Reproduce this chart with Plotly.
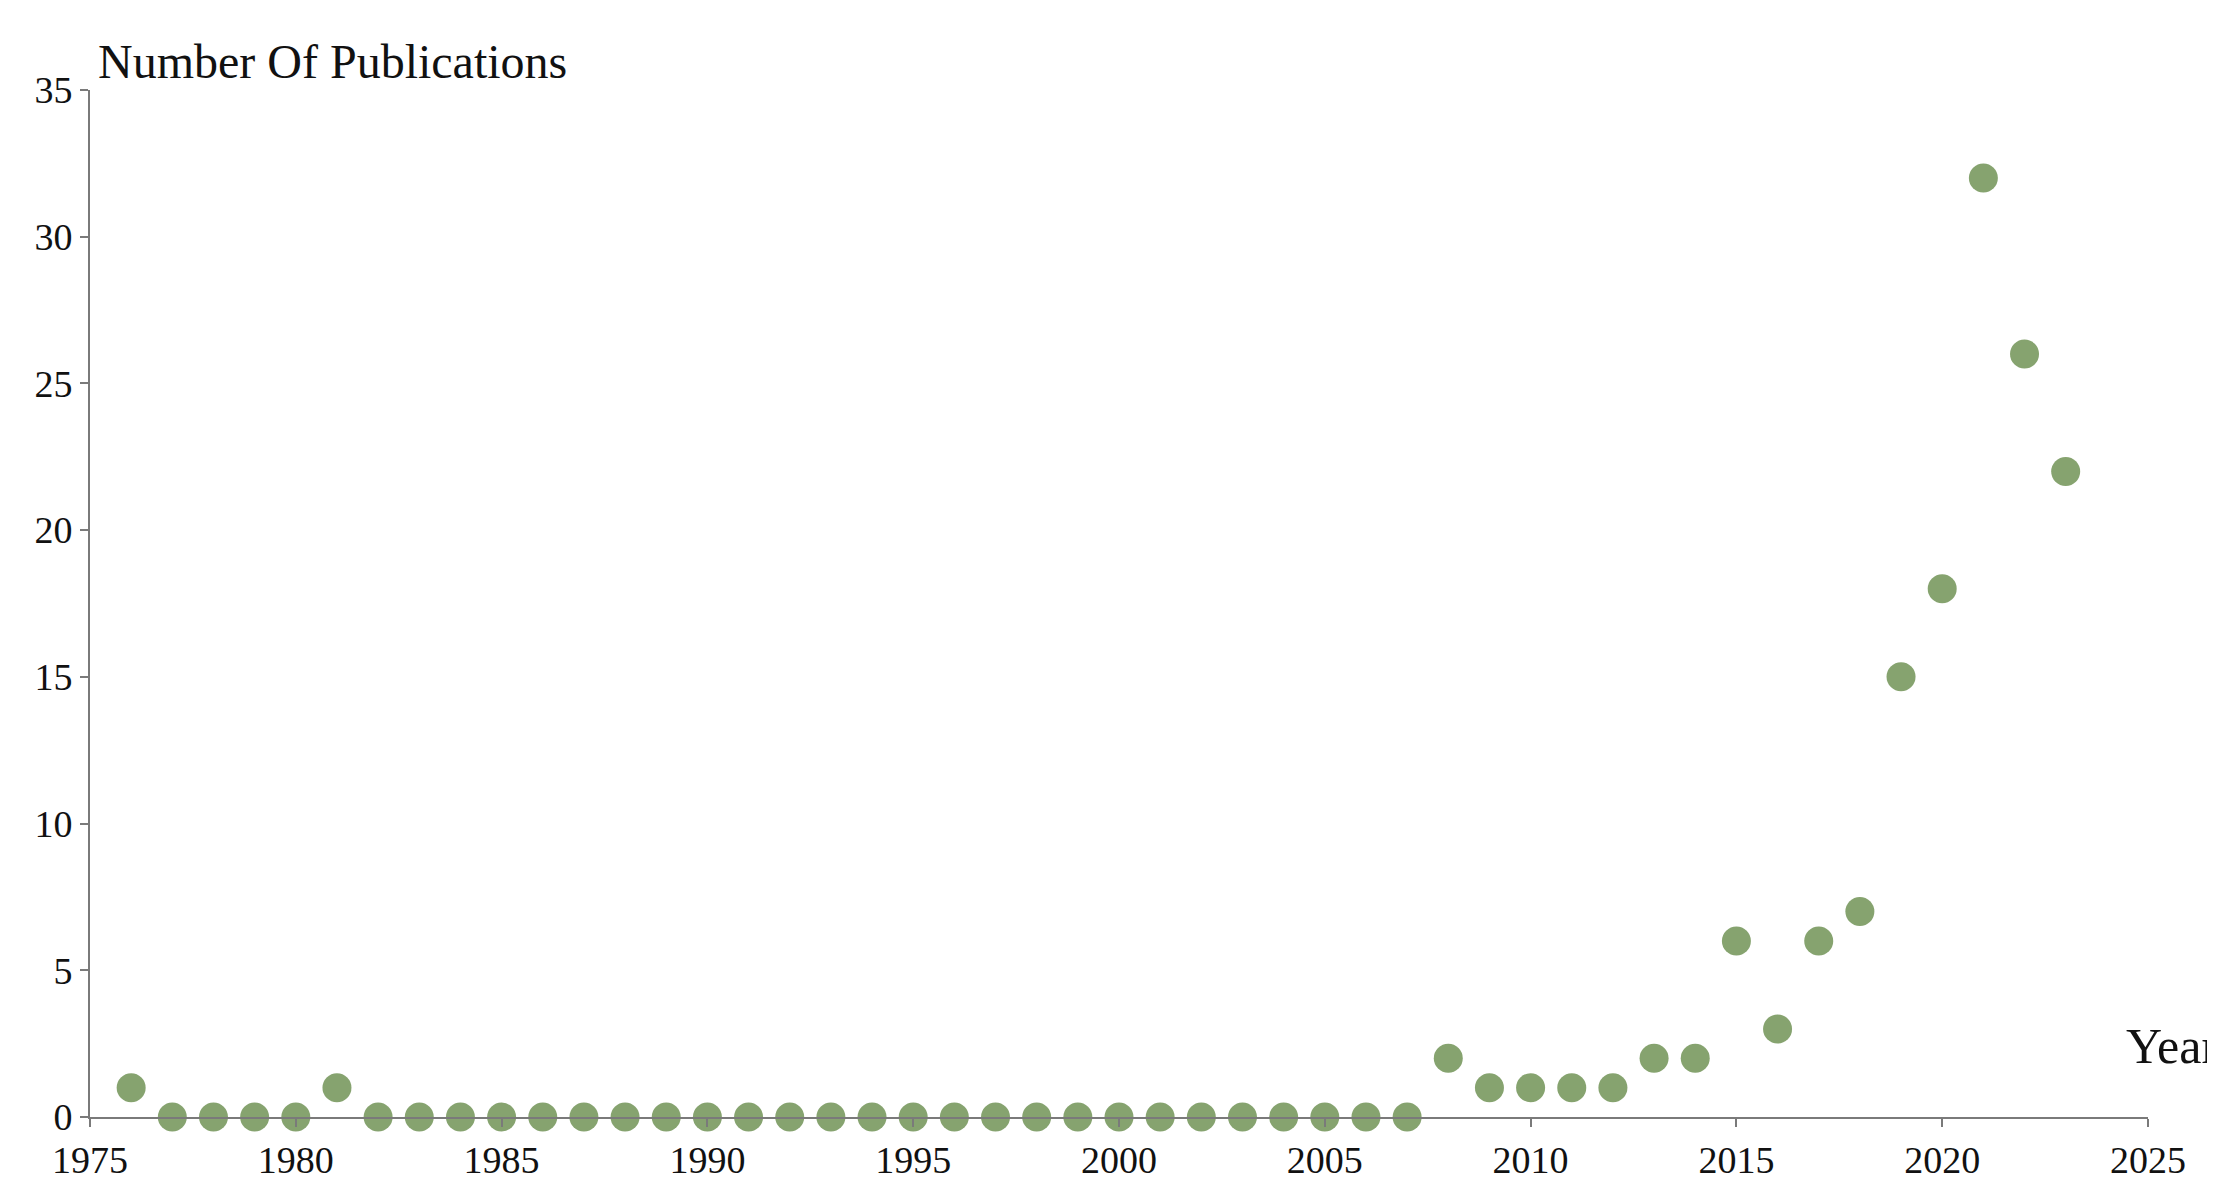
import plotly.graph_objects as go

years = list(range(1976, 2024))
counts = [1, 0, 0, 0, 0, 1] + [0] * 26 + [2, 1, 1, 1, 1, 2, 2, 6, 3, 6, 7, 15, 18, 32, 26, 22]
x_ticks = [1975, 1980, 1985, 1990, 1995, 2000, 2005, 2010, 2015, 2020, 2025]
y_ticks = [0, 5, 10, 15, 20, 25, 30, 35]

W, H = 2215, 1190
L, R, T, B = 82, 75, 82, 81

fig = go.Figure()
fig.add_trace(go.Scatter(
    x=years, y=counts, mode="markers",
    marker=dict(size=29, color="#86a36f", line=dict(width=0)),
    cliponaxis=False, showlegend=False,
))

axis_common = dict(
    showgrid=False, zeroline=False, showline=True,
    linecolor="#7a7a7a", linewidth=2,
    ticks="outside", ticklen=8, tickcolor="#7a7a7a", tickwidth=2,
    tickfont=dict(family="Liberation Serif", size=38, color="#111"),
)

fig.update_layout(
    width=W, height=H,
    margin=dict(l=L, r=R, t=T, b=B),
    plot_bgcolor="white", paper_bgcolor="white",
    xaxis=dict(range=[1975, 2025], tickvals=x_ticks, **axis_common),
    yaxis=dict(range=[0, 35], tickvals=y_ticks, **axis_common),
    annotations=[
        dict(text="Number Of Publications", xref="paper", yref="paper",
             x=0.003, y=1.0, xanchor="left", yanchor="bottom", showarrow=False,
             font=dict(family="Liberation Serif", size=48, color="#111")),
        dict(text="Year", xref="paper", yref="paper",
             x=1.035, y=0.04, xanchor="right", yanchor="bottom", showarrow=False,
             font=dict(family="Liberation Serif", size=50, color="#111")),
    ],
)

fig.write_html("out.html")
